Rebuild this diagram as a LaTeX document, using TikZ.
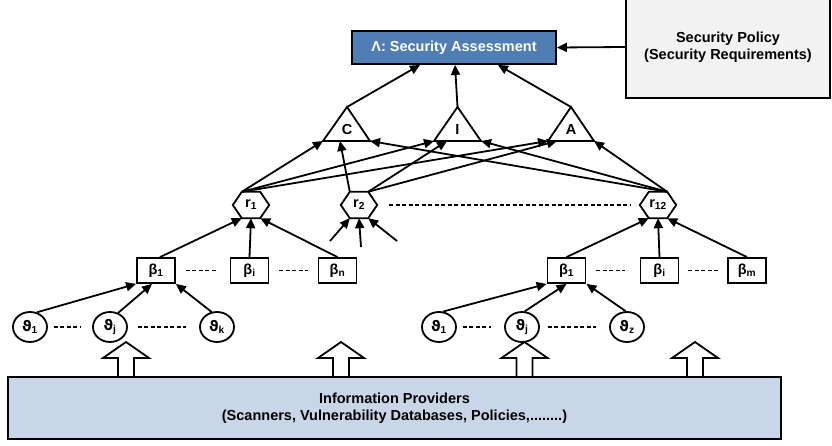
\documentclass[tikz,border=0pt]{standalone}
\usepackage{fontspec}
\setmainfont{Liberation Sans}
\newfontfamily\dejavu{DejaVu Sans}
\usetikzlibrary{arrows.meta,shapes.geometric,calc}
\definecolor{assess}{HTML}{4F7DB4}
\definecolor{policy}{HTML}{F2F2F2}
\definecolor{infobg}{HTML}{C8D6E7}
\tikzset{
 ln/.style={line width=1.8pt, draw=black},
 arr/.style={ln, -{Triangle[length=10pt,width=9pt]}},
 txt/.style={font=\bfseries\fontsize{14.5}{17}\selectfont, align=center, inner sep=0pt},
 bbox/.style={txt, ln, minimum width=38pt, minimum height=25pt},
 tnode/.style={txt, ln, ellipse, minimum width=34pt, minimum height=30pt},
 hexa/.style={txt, minimum width=36pt, minimum height=26pt},
 dsh/.style={ln, dash pattern=on 4pt off 2.5pt},
}
\newcommand{\vth}[1]{{\dejavu\bfseries ϑ}\textsubscript{#1}}
\begin{document}
\begin{tikzpicture}[x=1pt,y=-1pt]
\useasboundingbox (0,0) rectangle (832,446);
\clip (0,0) rectangle (832,446);
% top boxes
\node[txt, ln, fill=assess, text=white, minimum width=204pt, minimum height=33pt] (SA) at (454,47.5) {Λ: Security Assessment};
\node[txt, ln, fill=policy, minimum width=204pt, minimum height=102pt] (SP) at (728,47) {Security Policy\\(Security Requirements)};
\draw[arr] (SP.west) -- (SA.east);
% triangles
\node[txt] (C) at (347,130) {C};
\node[txt] (I) at (457.5,130) {I};
\node[txt] (A) at (571,130) {A};
\coordinate (Ct) at (347,107); \coordinate (Cl) at (323,141); \coordinate (Cr) at (370,141); \coordinate (Cm) at (340,141);
\coordinate (It) at (457.5,107); \coordinate (Il) at (434,141); \coordinate (Ir) at (481,141); \coordinate (Im) at (447,141);
\coordinate (At) at (571,107); \coordinate (Al) at (548,141); \coordinate (Ar) at (594,141); \coordinate (Am) at (557,141);
\foreach \t in {C,I,A} \draw[ln, line join=miter] (\t t) -- (\t l) -- (\t r) -- cycle;
\draw[arr] (Ct) -- ([xshift=-34pt]SA.south);
\draw[arr] (It) -- ([xshift=1pt]SA.south);
\draw[arr] (At) -- ([xshift=44pt]SA.south);
% r nodes
\node[hexa] (r1) at (251,205) {r\textsubscript{1}};
\node[hexa] (r2) at (359,205) {r\textsubscript{2}};
\node[hexa] (r12) at (658,205) {r\textsubscript{12}};
\foreach \n in {r1,r2,r12}
  \draw[ln, line join=miter] (\n.west) -- ([xshift=9pt]\n.north west) -- ([xshift=-9pt]\n.north east) -- (\n.east) -- ([xshift=-9pt]\n.south east) -- ([xshift=9pt]\n.south west) -- cycle;
\coordinate (r1a) at ([xshift=9pt]r1.north west);
\coordinate (r2a) at ([xshift=9pt]r2.north west);
\coordinate (r2b) at ([xshift=-9pt]r2.north east);
\coordinate (r12a) at ([xshift=-9pt]r12.north east);
\draw[arr] (r1a) -- (Cl);
\draw[arr] (r1a) -- (Il);
\draw[arr] (r1a) -- (Al);
\draw[arr] (r2a) -- (Cm);
\draw[arr] (r2b) -- (Im);
\draw[arr] (r2b) -- (Am);
\draw[arr] (r12a) -- (Cr);
\draw[arr] (r12a) -- (Ir);
\draw[arr] (r12a) -- (Ar);
% r2 inputs
\coordinate (q1) at (330,241); \coordinate (q2) at (361,247); \coordinate (q3) at (397,241);
\draw[arr] (q1) -- ([xshift=9pt]r2.south west);
\draw[arr] (q2) -- (r2.south);
\draw[arr] (q3) -- ([xshift=-9pt]r2.south east);
\draw[dsh] ([xshift=12pt]r2.east) -- ([xshift=-10pt]r12.west);
% beta nodes
\node[bbox] (bL1) at (156,270.5) {β\textsubscript{1}};
\node[bbox] (bLi) at (249.5,270.5) {β\textsubscript{i}};
\node[bbox] (bLn) at (337.5,270.5) {β\textsubscript{n}};
\node[bbox] (bR1) at (566.5,270.5) {β\textsubscript{1}};
\node[bbox] (bRi) at (659.5,270.5) {β\textsubscript{i}};
\node[bbox] (bRm) at (747,270.5) {β\textsubscript{m}};
\draw[arr] ([xshift=4pt]bL1.north) -- ([xshift=9pt]r1.south west);
\draw[arr] (bLi.north) -- (r1.south);
\draw[arr] (bLn.north) -- ([xshift=-9pt]r1.south east);
\draw[arr] (bR1.north) -- ([xshift=9pt]r12.south west);
\draw[arr] (bRi.north) -- (r12.south);
\draw[arr] (bRm.north) -- ([xshift=-9pt]r12.south east);
\draw[dsh] ([xshift=10pt]bL1.east) -- ([xshift=-13pt]bLi.west);
\draw[dsh] ([xshift=10pt]bLi.east) -- ([xshift=-10pt]bLn.west);
\draw[dsh] ([xshift=10pt]bR1.east) -- ([xshift=-15pt]bRi.west);
\draw[dsh] ([xshift=9pt]bRi.east) -- ([xshift=-9pt]bRm.west);
% theta nodes
\node[tnode] (tL1) at (30,327) {\vth{1}};
\node[tnode] (tLj) at (110,327) {\vth{j}};
\node[tnode] (tLk) at (217,327) {\vth{k}};
\node[tnode] (tR1) at (439,327) {\vth{1}};
\node[tnode] (tRj) at (522,327) {\vth{j}};
\node[tnode] (tRz) at (627,327) {\vth{z}};
\draw[arr] (tL1.65) -- (bL1.south west);
\draw[arr] (tLj.60) -- ([xshift=-4pt]bL1.south);
\draw[arr] (tLk.110) -- (bL1.south east);
\draw[arr] (tR1.75) -- (bR1.south west);
\draw[arr] (tRj.80) -- (bR1.south);
\draw[arr] (tRz.95) -- (bR1.south east);
\draw[dsh] ([xshift=6pt]tL1.east) -- ([xshift=-11pt]tLj.west);
\draw[dsh] ([xshift=10pt]tLj.east) -- ([xshift=-13pt]tLk.west);
\draw[dsh] ([xshift=6pt]tR1.east) -- ([xshift=-13pt]tRj.west);
\draw[dsh] ([xshift=8pt]tRj.east) -- ([xshift=-13pt]tRz.west);
% block arrows
\foreach \x in {126,341,524.5,695}
  \draw[ln, fill=white, line join=miter] (\x-8,378) -- (\x-8,358) -- (\x-23,358) -- (\x,342) -- (\x+23,358) -- (\x+8,358) -- (\x+8,378);
\node[txt, ln, fill=infobg, minimum width=773pt, minimum height=62pt] (IP) at (394.5,408) {Information Providers\\(Scanners, Vulnerability Databases, Policies,........)};
\end{tikzpicture}
\end{document}
